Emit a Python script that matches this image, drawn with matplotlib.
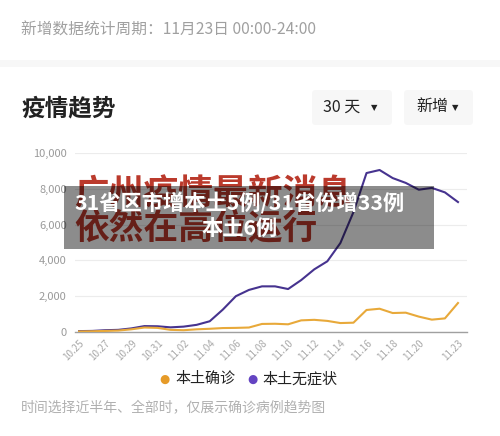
import numpy as np
import matplotlib.pyplot as plt
from matplotlib.patches import Rectangle, FancyBboxPatch

plt.rcParams['font.family'] = ['Noto Sans CJK SC', 'DejaVu Sans']

# ---- data ----
dates = ['10.25', '10.26', '10.27', '10.28', '10.29', '10.30', '10.31',
         '11.01', '11.02', '11.03', '11.04', '11.05', '11.06', '11.07',
         '11.08', '11.09', '11.10', '11.11', '11.12', '11.13', '11.14',
         '11.15', '11.16', '11.17', '11.18', '11.19', '11.20', '11.21',
         '11.22', '11.23']
confirmed = [30, 40, 60, 80, 150, 250, 230, 120, 100, 150, 180, 220, 230, 250,
             450, 460, 430, 650, 680, 620, 500, 520, 1230, 1300, 1060, 1080,
             860, 690, 760, 1620]
asymptomatic = [50, 60, 100, 120, 200, 330, 320, 260, 300, 400, 600, 1250, 2000,
                2350, 2550, 2550, 2400, 2900, 3500, 3950, 4970, 6700, 8880, 9050,
                8600, 8330, 7950, 8050, 7800, 7260]
tick_labels = ['10.25', '10.27', '10.29', '10.31', '11.02', '11.04', '11.06',
               '11.08', '11.10', '11.12', '11.14', '11.16', '11.18', '11.20', '11.23']
y_ticks = [0, 2000, 4000, 6000, 8000, 10000]

W, H = 500, 436
ORANGE = '#e8a93a'
PURPLE = '#46338f'
GREY = '#9a9a9a'

fig = plt.figure(figsize=(W / 100, H / 100), dpi=100)
fig.patch.set_facecolor('white')


def px(x, y):
    return x / W, 1 - y / H


# ---- header ----
fig.add_artist(Rectangle(px(0, 67), 1, 7 / H, transform=fig.transFigure,
                         facecolor='#f7f7f7', edgecolor='none'))
fig.text(*px(21, 30), '新增数据统计周期：11月23日 00:00-24:00', fontsize=11.3,
         color='#a0a0a0', va='center', ha='left')
fig.text(*px(21, 108), '疫情趋势', fontsize=17, fontweight='bold',
         color='#222222', va='center', ha='left')

for x0, x1, label, tx in [(312, 392, '30 天', 323), (404, 473, '新增', 416)]:
    fig.add_artist(FancyBboxPatch(px(x0, 125), (x1 - x0) / W, 35 / H,
                                  boxstyle='round,pad=0,rounding_size=0.008',
                                  transform=fig.transFigure,
                                  facecolor='#f7f7f7', edgecolor='none'))
    fig.text(*px(tx, 107), label, fontsize=11.5, color='#222222',
             va='center', ha='left')
    fig.text(*px(x1 - 18, 108), '▼', fontsize=6, color='#222222',
             va='center', ha='center', family='DejaVu Sans')

# ---- chart ----
ax = fig.add_axes([75 / W, 104 / H, 392 / W, 179 / H])
x = np.arange(len(dates))
ax.plot(x, asymptomatic, color=PURPLE, lw=1.5, solid_joinstyle='round', zorder=3)
ax.plot(x, confirmed, color=ORANGE, lw=1.5, solid_joinstyle='round', zorder=3)

ax.set_xlim(-0.31, 29.69)
ax.set_ylim(0, 10000)
ax.set_yticks(y_ticks)
ax.set_yticklabels([f'{v:,}' for v in y_ticks])
ax.set_xticks([dates.index(t) for t in tick_labels])
ax.set_xticklabels(tick_labels, rotation=45, ha='right', va='top',
                   rotation_mode='anchor')
ax.tick_params(axis='y', length=0, pad=6, labelsize=8, labelcolor=GREY)
ax.tick_params(axis='x', length=0, pad=4, labelsize=7, labelcolor='#a8a8a8')
ax.grid(axis='y', color='#ececec', lw=0.8)
ax.set_axisbelow(True)
for s in ['top', 'right', 'left']:
    ax.spines[s].set_visible(False)
ax.spines['bottom'].set_color('#a0a0a0')
ax.spines['bottom'].set_linewidth(1.0)

# ---- legend ----
fig.text(*px(164, 379), '●', fontsize=8.5, color='#e69b28', va='center',
         ha='center', family='DejaVu Sans')
fig.text(*px(175, 379), '本土确诊', fontsize=10.8, color='#222222',
         va='center', ha='left')
fig.text(*px(252, 379), '●', fontsize=8.5, color='#6444c2', va='center',
         ha='center', family='DejaVu Sans')
fig.text(*px(262, 379), '本土无症状', fontsize=10.8, color='#222222',
         va='center', ha='left')

fig.text(*px(21, 407), '时间选择近半年、全部时，仅展示确诊病例趋势图', fontsize=10,
         color='#b0b0b0', va='center', ha='left')

# ---- overlay banner ----
fig.text(*px(74, 194), '广州疫情最新消息', fontsize=25, fontweight='bold',
         color='#bb3a2c', va='center', ha='left', zorder=5)
fig.text(*px(74, 229), '依然在高位运行', fontsize=25, fontweight='bold',
         color='#bb3a2c', va='center', ha='left', zorder=5)
fig.add_artist(Rectangle(px(64, 249), 370 / W, 63 / H, transform=fig.transFigure,
                         facecolor='black', alpha=0.45, edgecolor='none', zorder=6))
fig.text(*px(240, 203), '31省区市增本土5例/31省份增33例', fontsize=15.3,
         fontweight='bold', color='white', va='center', ha='center', zorder=7)
fig.text(*px(240, 228), '本土6例', fontsize=15.3, fontweight='bold',
         color='white', va='center', ha='center', zorder=7)

fig.savefig('out.png', dpi=100, facecolor='white')
